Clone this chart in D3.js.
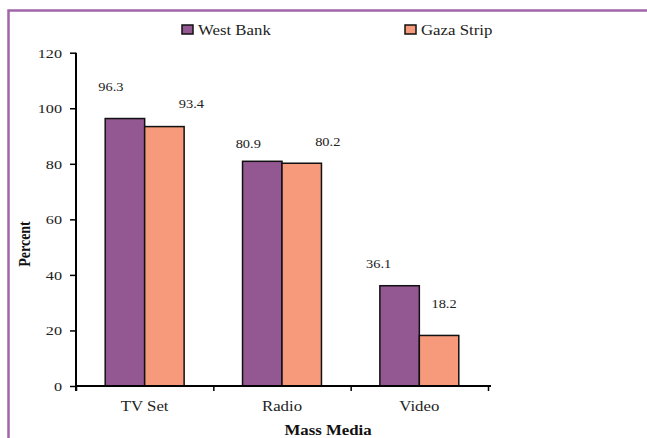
<!DOCTYPE html>
<html>
<head>
<meta charset="utf-8">
<script src="https://cdn.jsdelivr.net/npm/d3@7"></script>
<style>
  body { margin: 0; background: #fff; }
</style>
</head>
<body>
<div id="chart"></div>
<script>
// data
const categories = ['TV Set', 'Radio', 'Video'];
const series = ['West Bank', 'Gaza Strip'];
const westBank = [96.3, 80.9, 36.1];
const gazaStrip = [93.4, 80.2, 18.2];
const yTicks = [0, 20, 40, 60, 80, 100, 120];

const colors = ['#935892', '#f79a7b'];
// hand placed value labels (dx, dy from bar centre/top), like the original
const labelNudge = [
  [[-14, -32], [27, -23]],
  [[-14, -18], [26, -21]],
  [[-21, -22], [5, -32]]
];
const stretch = 1.2; // the picture is a little wider than tall
const serif = "'Liberation Serif'";

const width = 647, height = 438;
const svg = d3.select('#chart').append('svg')
  .attr('width', width)
  .attr('height', height);

// frame (only top and left are in view)
svg.append('path')
  .attr('d', 'M8.5,438 V10.5 H647')
  .attr('fill', 'none')
  .attr('stroke', '#a066a8')
  .attr('stroke-width', 2.5);

const plot = {left: 76, right: 488, top: 52.7, bottom: 386};

const x0 = d3.scaleBand()
  .domain(categories)
  .range([plot.left, plot.right]);

const x1 = d3.scaleBand()
  .domain(series)
  .range([0, x0.bandwidth()])
  .paddingOuter(0.74);

const y = d3.scaleLinear()
  .domain([0, 120])
  .range([plot.bottom, plot.top]);

const rows = categories.map((c, i) => ({
  cat: c, i: i,
  vals: [westBank[i], gazaStrip[i]]
}));

// bars
const group = svg.append('g').selectAll('g')
  .data(rows)
  .enter().append('g')
  .attr('transform', d => 'translate(' + x0(d.cat) + ',0)');

group.selectAll('rect')
  .data(d => d.vals.map((v, j) => ({v: v, j: j, i: d.i})))
  .enter().append('rect')
  .attr('x', d => x1(series[d.j]))
  .attr('y', d => y(d.v))
  .attr('width', x1.bandwidth())
  .attr('height', d => y(0) - y(d.v))
  .attr('fill', d => colors[d.j])
  .attr('stroke', '#111')
  .attr('stroke-width', 1.5);

group.selectAll('text.val')
  .data(d => d.vals.map((v, j) => ({v: v, j: j, i: d.i})))
  .enter().append('text')
  .attr('class', 'val')
  .attr('text-anchor', 'middle')
  .attr('dy', '0.35em')
  .style('font-family', serif)
  .style('font-size', '12px')
  .attr('fill', '#222')
  .attr('transform', d => {
    const cx = x1(series[d.j]) + x1.bandwidth() / 2 + labelNudge[d.i][d.j][0];
    const cy = y(d.v) + labelNudge[d.i][d.j][1];
    return 'translate(' + cx + ',' + cy + ') scale(' + stretch + ',1)';
  })
  .text(d => d.v.toFixed(1));

// y axis
const yAxis = svg.append('g')
  .attr('transform', 'translate(' + plot.left + ',0)')
  .call(d3.axisLeft(y).tickValues(yTicks).tickSize(6).tickSizeOuter(0));
yAxis.select('.domain').attr('d', 'M0,' + plot.top + 'V' + (plot.bottom + 5))
  .attr('stroke', '#000').attr('stroke-width', 2);
yAxis.selectAll('.tick line').attr('stroke', '#000').attr('stroke-width', 1.5);
yAxis.selectAll('.tick text')
  .attr('x', 0)
  .attr('transform', 'translate(-14,0) scale(' + stretch + ',1)')
  .style('font-family', serif)
  .style('font-size', '13.5px')
  .attr('fill', '#222');

// x axis: ticks between categories, labels under each band
const xEdges = d3.scaleLinear().domain([0, categories.length]).range([plot.left, plot.right]);
const xTickAxis = svg.append('g')
  .attr('transform', 'translate(0,' + plot.bottom + ')')
  .call(d3.axisBottom(xEdges).ticks(categories.length).tickFormat('').tickSize(5).tickSizeOuter(0));
xTickAxis.select('.domain').attr('d', 'M' + plot.left + ',0H' + (plot.right + 3))
  .attr('stroke', '#000').attr('stroke-width', 2);
xTickAxis.selectAll('.tick line').attr('stroke', '#000').attr('stroke-width', 1.5);

const xAxis = svg.append('g')
  .attr('transform', 'translate(0,' + plot.bottom + ')')
  .call(d3.axisBottom(x0).tickSize(0));
xAxis.select('.domain').remove();
xAxis.selectAll('.tick text')
  .attr('y', 0).attr('dy', 0)
  .attr('transform', 'translate(0,25) scale(' + stretch + ',1)')
  .style('font-family', serif)
  .style('font-size', '14px')
  .attr('fill', '#222');

// axis titles
svg.append('text')
  .attr('transform', 'translate(328,435) scale(' + stretch + ',1)')
  .attr('text-anchor', 'middle')
  .style('font-family', serif)
  .style('font-size', '14px')
  .style('font-weight', 'bold')
  .attr('fill', '#111')
  .text('Mass Media');

svg.append('text')
  .attr('transform', 'translate(30,244) scale(' + stretch + ',1) rotate(-90)')
  .attr('text-anchor', 'middle')
  .style('font-family', serif)
  .style('font-size', '14px')
  .style('font-weight', 'bold')
  .attr('fill', '#111')
  .text('Percent');

// legend
const legendX = [182, 405];
const legend = svg.append('g').selectAll('g')
  .data(series)
  .enter().append('g')
  .attr('transform', (d, i) => 'translate(' + legendX[i] + ',25)');
legend.append('rect')
  .attr('width', 11).attr('height', 9)
  .attr('fill', (d, i) => colors[i])
  .attr('stroke', '#111').attr('stroke-width', 1.5);
legend.append('text')
  .attr('transform', 'translate(16,10) scale(' + stretch + ',1)')
  .style('font-family', serif)
  .style('font-size', '14px')
  .attr('fill', '#222')
  .text(d => d);
</script>
</body>
</html>
